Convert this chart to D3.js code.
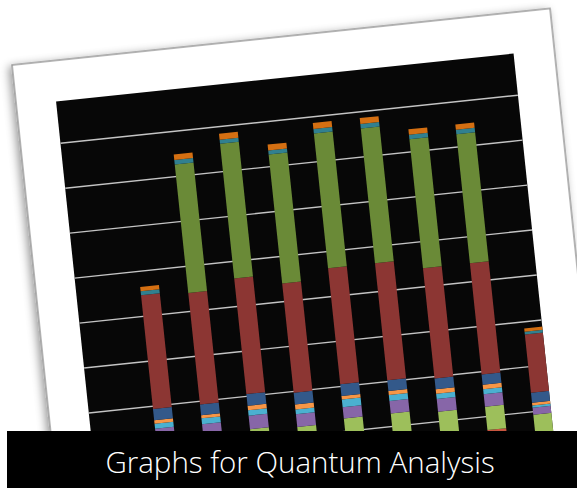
<!DOCTYPE html>
<html>
<head>
<meta charset="utf-8">
<script src="https://cdn.jsdelivr.net/npm/d3@7"></script>
<style>
  html, body { margin: 0; padding: 0; background: #fff; }
  svg { display: block; }
</style>
</head>
<body>
<svg width="577" height="488"></svg>
<script>
// ---- Dados (unidades = intervalos da grade)
const categories = ['1', '2', '3', '4', '5', '6', '7', '8', '9'];

const seriesNames = ['s1', 's2', 's3', 's4', 's5', 's6', 's7', 's8', 's9', 's11', 's12'];
const seriesColors = ['#4f81bd', '#c8553f', '#9dbf5b', '#8766a8', '#4bb0d0', '#f79646',
                      '#33598a', '#8c3633', '#6a8a37', '#31808f', '#d46f12'];

// valores por série (de baixo para cima), um por categoria
const s1  = [0.60, 0.60, 0.60, 0.60, 0.60, 0.60, 0.60, 0.60, 0.40];
const s2  = [0.08, 0.08, 0.08, 0.08, 0.08, 0.08, 0.08, 0.09, 0.06];
const s3  = [0.52, 0.52, 0.58, 0.52, 0.60, 0.60, 0.53, 0.52, 0.46];
const s4  = [0.29, 0.28, 0.30, 0.28, 0.25, 0.28, 0.28, 0.28, 0.16];
const s5  = [0.11, 0.13, 0.12, 0.11, 0.17, 0.13, 0.12, 0.11, 0.05];
const s6  = [0.08, 0.07, 0.10, 0.11, 0.08, 0.09, 0.10, 0.10, 0.06];
const s7  = [0.25, 0.24, 0.26, 0.26, 0.26, 0.24, 0.24, 0.23, 0.22];
const s8  = [2.53, 2.48, 2.57, 2.43, 2.58, 2.60, 2.45, 2.47, 1.30];
const s9  = [0.00, 2.86, 3.00, 2.87, 3.00, 3.00, 2.87, 2.87, 0.00];
const s11 = [0.09, 0.10, 0.09, 0.09, 0.10, 0.10, 0.10, 0.10, 0.06];
const s12 = [0.09, 0.12, 0.13, 0.13, 0.13, 0.13, 0.12, 0.12, 0.07];

const seriesValues = [s1, s2, s3, s4, s5, s6, s7, s8, s9, s11, s12];
const gridTicks = [1, 2, 3, 4, 5, 6, 7, 8];
const yMax = 8;

const title = 'Graphs for Quantum Analysis';

// ---- Layout
const svg = d3.select('svg');
const photo = { x: 12, y: 65, w: 541, h: 580, angle: -6 };
const chart = { left: 40, top: 41, right: 500, bottom: 520 };
const plot = { left: 90.1, right: 514.9, top: 82.4, bottom: 444 };

const defs = svg.append('defs');
const shadow = defs.append('filter')
    .attr('id', 'shadow')
    .attr('x', '-10%').attr('y', '-10%')
    .attr('width', '120%').attr('height', '120%');
shadow.append('feDropShadow')
    .attr('dx', -3).attr('dy', 2)
    .attr('stdDeviation', 4)
    .attr('flood-color', '#000')
    .attr('flood-opacity', 0.4);

defs.append('clipPath').attr('id', 'chartClip')
    .append('rect')
    .attr('x', chart.left).attr('y', chart.top)
    .attr('width', chart.right - chart.left)
    .attr('height', chart.bottom - chart.top);

const g = svg.append('g')
    .attr('transform', `translate(${photo.x}, ${photo.y}) rotate(${photo.angle})`);

// foto (moldura branca)
g.append('rect')
    .attr('width', photo.w).attr('height', photo.h)
    .attr('fill', '#fff')
    .attr('stroke', '#9a9a9a')
    .attr('stroke-width', 1.5)
    .attr('filter', 'url(#shadow)');

// área do gráfico
g.append('rect')
    .attr('x', chart.left).attr('y', chart.top)
    .attr('width', chart.right - chart.left)
    .attr('height', chart.bottom - chart.top)
    .attr('fill', '#070707');

const inner = g.append('g').attr('clip-path', 'url(#chartClip)');

// ---- Escalas
const mapX = d3.scaleBand()
    .domain(categories)
    .range([plot.left, plot.right])
    .paddingInner(0.6)
    .paddingOuter(0.3);

const mapY = d3.scaleLinear()
    .domain([0, yMax])
    .range([plot.bottom, plot.top]);

// ---- Grade
const yAxis = d3.axisLeft(mapY)
    .tickValues(gridTicks)
    .tickSize(-(chart.right - chart.left))
    .tickFormat('');

inner.append('g')
    .attr('transform', `translate(${chart.left}, 0)`)
    .call(yAxis)
    .call(ax => ax.select('.domain').remove())
    .call(ax => ax.selectAll('line')
        .attr('stroke', '#c4c4c4')
        .attr('stroke-width', 1.4));

// ---- Barras empilhadas
const rows = categories.map((c, i) => {
    const row = { cat: c };
    seriesNames.forEach((s, j) => { row[s] = seriesValues[j][i]; });
    return row;
});

const stacked = d3.stack().keys(seriesNames)(rows);

inner.selectAll('.serie')
    .data(stacked)
    .join('g')
    .attr('class', 'serie')
    .attr('fill', (d, i) => seriesColors[i])
    .selectAll('rect')
    .data(d => d)
    .join('rect')
    .attr('x', d => mapX(d.data.cat))
    .attr('y', d => mapY(d[1]))
    .attr('width', mapX.bandwidth())
    .attr('height', d => mapY(d[0]) - mapY(d[1]));

// ---- Faixa do título
svg.append('rect')
    .attr('x', 7).attr('y', 431)
    .attr('width', 577 - 7).attr('height', 488 - 431)
    .attr('fill', '#000');

svg.append('text')
    .attr('x', 300).attr('y', 473)
    .attr('text-anchor', 'middle')
    .attr('fill', '#fff')
    .style('font-family', '"Open Sans", "Noto Sans", sans-serif')
    .style('font-size', '29.5px')
    .style('font-weight', 300)
    .text(title);
</script>
</body>
</html>
